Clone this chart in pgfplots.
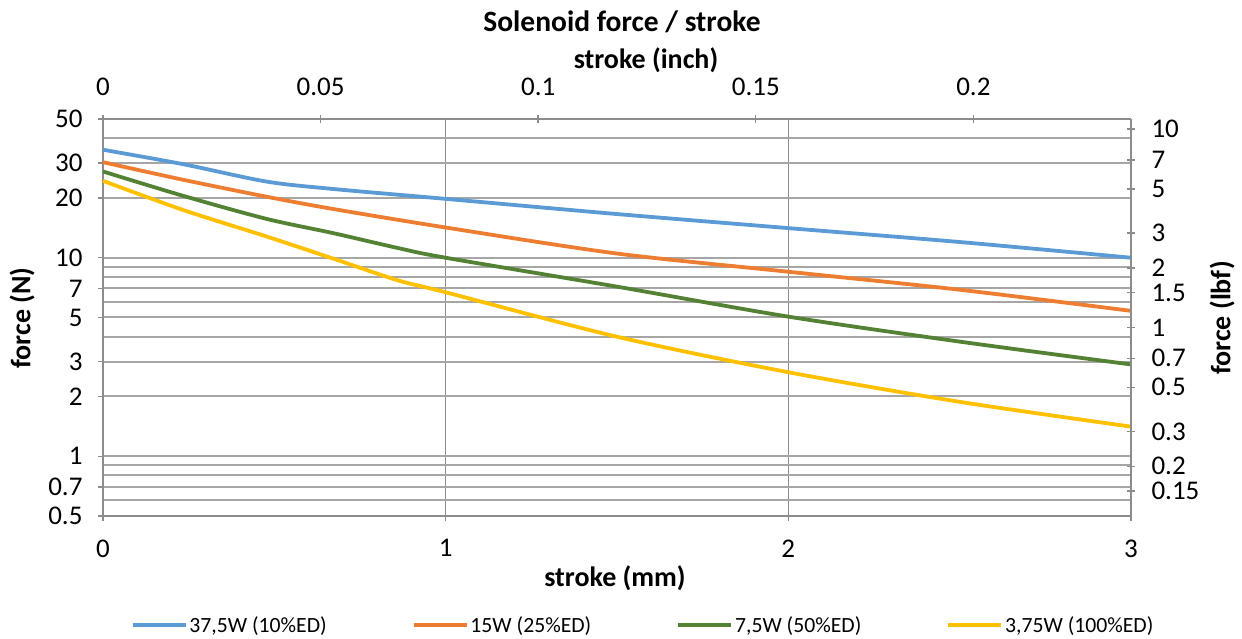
\documentclass[border=0pt]{standalone}
\usepackage{fontspec}
\setmainfont{Carlito}
\usepackage{pgfplots}
\pgfplotsset{compat=1.18}
\definecolor{cblue}{HTML}{5B9BD5}
\definecolor{corange}{HTML}{ED7D31}
\definecolor{cgreen}{HTML}{548235}
\definecolor{cyellow}{HTML}{FFC000}
\definecolor{hgrid}{HTML}{A6A6A6}
\definecolor{vgrid}{HTML}{8C8C8C}
\newcommand{\tickfont}{\fontsize{27}{27}\selectfont}
\newcommand{\labfont}{\fontsize{28}{28}\selectfont\bfseries}
\begin{document}
\begin{tikzpicture}[x=1pt,y=1pt]
\begin{axis}[
  at={(0pt,0pt)}, anchor=south west, scale only axis,
  width=1028pt, height=397pt,
  xmin=0, xmax=3, ymode=log, ymin=0.5, ymax=50,
  axis x line*=bottom, axis y line*=left,
  axis line style={vgrid, line width=1.4pt},
  /pgf/number format/assume math mode=true,
  xtick={0,1,2,3}, xticklabels={0,1,2,3},
  ytick={0.5,0.7,1,2,3,5,7,10,20,30,50},
  yticklabels={0.5,0.7,1,2,3,5,7,10,20,30,50},
  minor ytick={0.6,0.8,0.9,4,6,8,9,40},
  xmajorgrids, ymajorgrids, yminorgrids,
  major x grid style={vgrid, line width=1.5pt},
  major y grid style={hgrid, line width=2pt},
  minor y grid style={hgrid, line width=2pt},
  tick align=outside, major tick length=5pt, minor tick length=0pt,
  tick style={vgrid, line width=1.4pt},
  ticklabel style={font=\tickfont, text=black},
  xticklabel style={yshift=-15pt},
  yticklabel style={xshift=-12pt},
  clip=false,
  legend columns=4,
  legend style={at={(0.5253,-0.2746)}, anchor=center, draw=none, fill=none,
    font=\fontsize{21.7}{21.7}\selectfont,
    /tikz/every even column/.append style={column sep=83pt},
    inner sep=0pt},
  legend image code/.code={\draw[#1, line width=3.8pt] (0pt,0pt) -- (53pt,0pt);},
  every axis plot/.append style={line width=3.8pt, smooth, tension=0.5},
]
\addplot[cblue] coordinates {(0,35.0) (0.234,29.6) (0.477,24.2) (0.672,22.2) (1,19.8) (1.5,16.6) (2,14.1) (2.5,12.0) (3,10.0)};
\addlegendentry{37,5W (10\%ED)}
\addplot[corange] coordinates {(0,30.3) (0.234,24.7) (0.477,20.3) (0.672,17.6) (1,14.2) (1.5,10.5) (2,8.5) (2.5,6.9) (3,5.4)};
\addlegendentry{15W (25\%ED)}
\addplot[cgreen] coordinates {(0,27.2) (0.234,20.5) (0.477,15.7) (0.672,13.3) (0.86,11.2) (1,10.0) (1.5,7.15) (2,5.05) (2.5,3.78) (3,2.9)};
\addlegendentry{7,5W (50\%ED)}
\addplot[cyellow] coordinates {(0,24.4) (0.234,17.4) (0.477,12.8) (0.672,9.9) (0.86,7.7) (1,6.7) (1.5,4.0) (2,2.65) (2.5,1.88) (3,1.41)};
\addlegendentry{3,75W (100\%ED)}
\end{axis}
\begin{axis}[
  at={(0pt,0pt)}, anchor=south west, scale only axis,
  width=1028pt, height=397pt,
  xmin=0, xmax=0.23622, ymode=log, ymin=0.112410, ymax=11.2410,
  axis x line*=top, axis y line*=right,
  axis line style={vgrid, line width=1.4pt},
  /pgf/number format/assume math mode=true,
  xtick={0,0.05,0.1,0.15,0.2}, xticklabels={0,0.05,0.1,0.15,0.2},
  ytick={0.15,0.2,0.3,0.5,0.7,1,1.5,2,3,5,7,10},
  yticklabels={0.15,0.2,0.3,0.5,0.7,1,1.5,2,3,5,7,10},
  minor ytick={},
  tick align=center, major tick length=8pt, minor tick length=0pt,
  tick style={vgrid, line width=1.4pt},
  ticklabel style={font=\tickfont, text=black},
  xticklabel style={yshift=16pt},
  yticklabel style={xshift=13pt},
]
\end{axis}
\node[font=\fontsize{29.5}{29.5}\selectfont\bfseries] at (519,494) {Solenoid force / stroke};
\node[font=\labfont] at (543,456) {stroke (inch)};
\node[font=\labfont] at (512,-62) {stroke (mm)};
\node[font=\labfont, rotate=90] at (-81,198) {force (N)};
\node[font=\labfont, rotate=90] at (1119,198) {force (lbf)};
\pgfresetboundingbox
\path (-103,-123) rectangle (1139,516);
\end{tikzpicture}
\end{document}
